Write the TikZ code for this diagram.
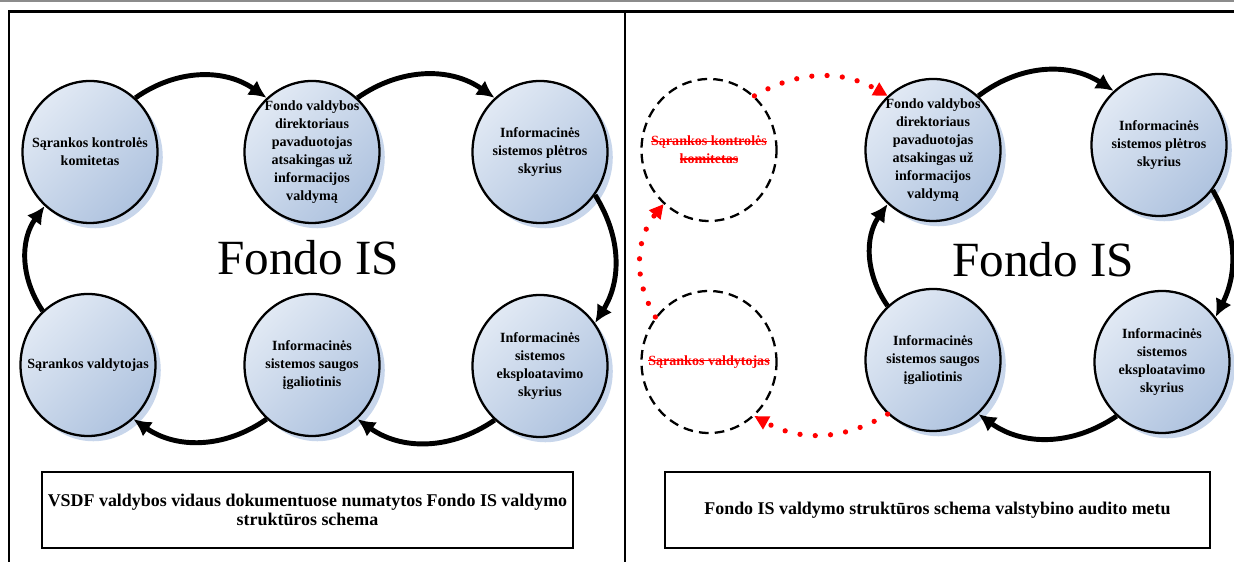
\documentclass[tikz,border=0pt]{standalone}
\usepackage{fontspec}
\setmainfont{Liberation Serif}
\usetikzlibrary{arrows.meta,shapes.geometric,shadows}
\definecolor{bublight}{HTML}{E1E9F4}
\definecolor{bubdark}{HTML}{AFC3DF}
\definecolor{bubshadow}{HTML}{BACCE6}
\newcommand\strk[1]{\setbox0\hbox{#1}\rlap{\rule[0.3em]{\wd0}{0.6pt}}\box0}

\begin{document}
\begin{tikzpicture}[
	bubtext/.style={align=center, font=\fontsize{8}{10.2}\selectfont\bfseries},
	bubble/.style={ellipse, draw, line width=1.3pt, minimum width=2.7cm, minimum height=2.84cm, inner sep=0pt,
		top color=bublight, bottom color=bubdark, shading angle=45,
		drop shadow={fill=bubshadow, opacity=0.8, shadow xshift=3pt, shadow yshift=-3pt},
		label={[bubtext]center:#1}},
	gone/.style={ellipse, draw, line width=1.3pt, dash pattern=on 5.5pt off 3.5pt, minimum width=2.7cm, minimum height=2.84cm,
		inner sep=0pt, label={[bubtext, text=red]center:#1}},
	flow/.style={line width=2.8pt, -{Latex[length=10pt,width=10pt]}},
	lost/.style={red, line width=3pt, line cap=round, dash pattern=on 0pt off 8.7pt, -{Triangle[length=8pt,width=8pt]}},
	caption/.style={draw, line width=1.2pt, minimum height=1.52cm, align=center, font=\fontsize{10.2}{11}\selectfont\bfseries},
	title/.style={font=\fontsize{28}{30}\selectfont}
]
\useasboundingbox (0,0) rectangle (24.68,11.24);
\draw[gray!90, line width=1.1pt] (0,11.22) -- (24.68,11.22);
\draw[line width=1.6pt] (0.18,0) |- (24.68,11.01);
\draw[line width=1.6pt] (12.5,11.01) -- (12.5,0);

\node[bubble={Sąrankos kontrolės\\komitetas}] (kom) at (1.8,8.2) {};
\node[bubble={Fondo valdybos\\direktoriaus\\pavaduotojas\\atsakingas už\\informacijos\\valdymą}] (fon) at (6.24,8.2) {};
\node[bubble={Informacinės\\sistemos plėtros\\skyrius}] (ple) at (10.8,8.2) {};
\node[bubble={Sąrankos valdytojas}] (val) at (1.76,3.94) {};
\node[bubble={Informacinės\\sistemos saugos\\įgaliotinis}] (sau) at (6.24,3.94) {};
\node[bubble={Informacinės\\sistemos\\eksploatavimo\\skyrius}] (eks) at (10.8,3.92) {};
\node[title] (fis) at (6.16,6.08) {Fondo IS};
\node[caption, minimum width=10.5cm] (cap) at (6.15,1.04) {VSDF valdybos vidaus dokumentuose numatytos Fondo IS valdymo\\struktūros schema};

\draw[flow] (kom.50) to[bend left=35] (fon.130);
\draw[flow] (fon.50) to[bend left=35] (ple.130);
\draw[flow] (ple.-38) to[bend left=32] (eks.38);
\draw[flow] (eks.-130) to[bend left=35] (sau.-50);
\draw[flow] (sau.-130) to[bend left=35] (val.-50);
\draw[flow] (val.130) to[bend left=35] (kom.-130);

\node[gone={\strk{Sąrankos kontrolės}\\\strk{komitetas}}] (dkom) at (14.18,8.24) {};
\node[gone={\strk{Sąrankos valdytojas}}] (dval) at (14.18,4.0) {};
\node[bubble={Fondo valdybos\\direktoriaus\\pavaduotojas\\atsakingas už\\informacijos\\valdymą}] (rfon) at (18.66,8.24) {};
\node[bubble={Informacinės\\sistemos plėtros\\skyrius}] (rple) at (23.18,8.34) {};
\node[bubble={Informacinės\\sistemos saugos\\įgaliotinis}] (rsau) at (18.66,4.04) {};
\node[bubble={Informacinės\\sistemos\\eksploatavimo\\skyrius}] (reks) at (23.24,4.0) {};
\node[title] (rfis) at (20.86,6.04) {Fondo IS};
\node[caption, minimum width=10.9cm] (rcap) at (18.75,1.04) {Fondo IS valdymo struktūros schema valstybino audito metu};

\draw[lost] (dkom.50) to[bend left=30] (rfon.130);
\draw[lost] (rsau.-130) to[bend left=30] (dval.-50);
\draw[lost] (dval.140) to[bend left=35] (dkom.-130);
\draw[flow] (rfon.50) to[bend left=35] (rple.130);
\draw[flow] (rple.-40) to[bend left=28] (reks.40);
\draw[flow] (reks.-130) to[bend left=35] (rsau.-50);
\draw[flow] (rsau.130) to[bend left=35] (rfon.-130);
\end{tikzpicture}
\end{document}
